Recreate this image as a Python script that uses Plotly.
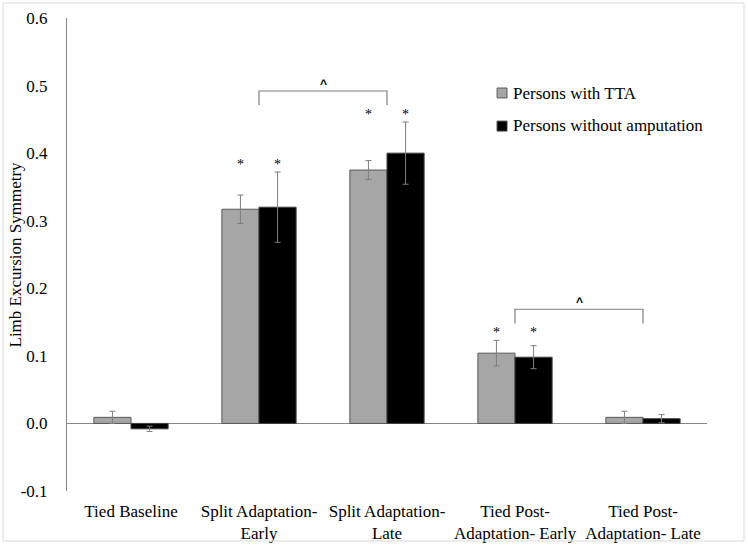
import plotly.graph_objects as go

categories = ["Tied Baseline", "Split Adaptation-<br>Early", "Split Adaptation-<br>Late",
              "Tied Post-<br>Adaptation- Early", "Tied Post-<br>Adaptation- Late"]
series_names = ["Persons with TTA", "Persons without amputation"]
tta_values = [0.009, 0.317, 0.375, 0.104, 0.009]
tta_err = [0.009, 0.021, 0.014, 0.019, 0.009]
noamp_values = [-0.008, 0.320, 0.400, 0.098, 0.007]
noamp_err = [0.004, 0.052, 0.046, 0.017, 0.006]
significant = [False, True, True, True, False]
bracket_pairs = [(1, 2), (3, 4)]
y_tickvals = [-0.1, 0.0, 0.1, 0.2, 0.3, 0.4, 0.5, 0.6]
y_ticktext = ["-0.1", "0.0", "0.1", "0.2", "0.3", "0.4", "0.5", "0.6"]
y_title = "Limb Excursion Symmetry"

FONT = "Liberation Serif"
FILLS = ["#A6A6A6", "#000000"]
OUTLINES = ["#595959", "#404040"]
xidx = list(range(len(categories)))

fig = go.Figure()
for name, vals, errs, fill, outline in zip(series_names, [tta_values, noamp_values],
                                           [tta_err, noamp_err], FILLS, OUTLINES):
    fig.add_trace(go.Bar(
        x=xidx, y=vals, name=name, showlegend=False,
        marker=dict(color=fill, line=dict(color=outline, width=1)),
        error_y=dict(type="data", array=errs, color="#7F7F7F", thickness=1, width=3),
    ))

# significance stars
star_y = {}
for i in xidx:
    top = max(tta_values[i] + tta_err[i], noamp_values[i] + noamp_err[i])
    star_y[i] = top + 0.016
    if significant[i]:
        for shift in (-18.5, 18.5):
            fig.add_annotation(x=i, y=star_y[i], xref="x", yref="y", xshift=shift,
                               text="*", showarrow=False, yanchor="middle", yshift=-3,
                               font=dict(family=FONT, size=14, color="#000000"))

# brackets
for a, b in bracket_pairs:
    top = max(star_y[a], star_y[b]) + 0.03
    leg = top - 0.021
    fig.add_shape(type="path", xref="x", yref="y",
                  path=f"M {a},{leg} L {a},{top} L {b},{top} L {b},{leg}",
                  line=dict(color="#7F7F7F", width=1.2))
    fig.add_annotation(x=(a + b) / 2, y=top + 0.011, xref="x", yref="y", text="<b>^</b>",
                       showarrow=False, yanchor="middle",
                       font=dict(family="Liberation Sans", size=12, color="#000000"))

# legend (drawn as layout items)
leg_rows = [(0.852, 0.831, 0.841), (0.782, 0.761, 0.772)]
for name, fill, outline, (y1, y0, yc) in zip(series_names, FILLS, OUTLINES, leg_rows):
    fig.add_shape(type="rect", xref="paper", yref="paper", x0=0.672, x1=0.6875, y0=y0, y1=y1,
                  fillcolor=fill, line=dict(color=outline, width=1))
    fig.add_annotation(x=0.694, y=yc, xref="paper", yref="paper", text=name, showarrow=False,
                       xanchor="left", yanchor="middle",
                       font=dict(family=FONT, size=17, color="#000000"))

# y axis title
fig.add_annotation(x=-0.0797, y=0.5, xref="paper", yref="paper", text=y_title, textangle=-90,
                   showarrow=False, xanchor="center", yanchor="middle",
                   font=dict(family=FONT, size=17, color="#000000"))

# outer border
fig.add_shape(type="rect", xref="paper", yref="paper", x0=-0.1, x1=1.0578, y0=-0.1057, y1=1.0317,
              line=dict(color="#D9D9D9", width=1))

fig.update_layout(
    width=748, height=546,
    margin=dict(l=67, r=41, t=18, b=55),
    paper_bgcolor="white", plot_bgcolor="white",
    barmode="group", bargap=0.42, bargroupgap=0,
    font=dict(family=FONT, size=17, color="#000000"),
    showlegend=False,
    xaxis=dict(tickmode="array", tickvals=xidx, ticktext=categories, range=[-0.5, 4.5],
               showline=False, showgrid=False, zeroline=False, ticks="", ticklabelstandoff=8,
               automargin=False, tickfont=dict(family=FONT, size=17)),
    yaxis=dict(range=[-0.1, 0.6], tickvals=y_tickvals, ticktext=y_ticktext,
               showline=True, linecolor="#868686", linewidth=1, showgrid=False,
               zeroline=True, zerolinecolor="#868686", zerolinewidth=1, ticks="",
               ticklabelstandoff=15, automargin=False, tickfont=dict(family=FONT, size=17)),
)

fig.write_html("out.html", config={"displayModeBar": False},
               post_script="document.body.style.margin='0';document.body.style.overflow='hidden';")
